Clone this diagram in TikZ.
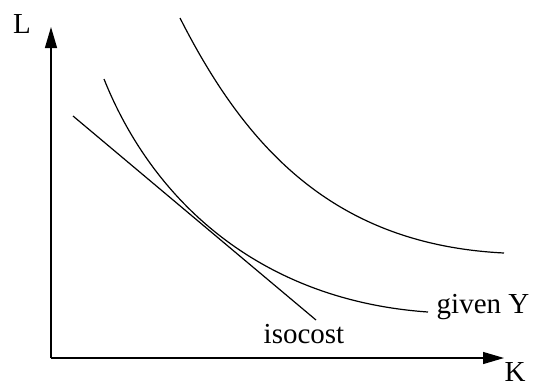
\documentclass[tikz,border=0pt]{standalone}
\usepackage{fontspec}
\setmainfont{Liberation Serif}
\usetikzlibrary{arrows.meta}

\begin{document}
\begin{tikzpicture}[x=1bp, y=-1bp,
    axis/.style={-{Triangle[length=21bp, width=12bp]}, line width=1.2bp},
    curve/.style={line width=1.2bp},
    lbl/.style={anchor=base, inner sep=0pt, font=\fontsize{29bp}{34bp}\selectfont}]
        \useasboundingbox (0,0) rectangle (535,388);

        \coordinate (o)    at (51,358);
        \coordinate (ltop) at (51,27);
        \coordinate (kend) at (504,358);
        \coordinate (q1s)  at (104,79);
        \coordinate (q1e)  at (428,312);
        \coordinate (q2s)  at (180,18);
        \coordinate (q2e)  at (504,253);
        \coordinate (cs)   at (73,116);
        \coordinate (ce)   at (316,320);

        \node[lbl] (l)     at (22,33)   {L};
        \node[lbl] (k)     at (515,381) {K};
        \node[lbl] (iso)   at (304,343) {isocost};
        \node[lbl] (given) at (483,313) {given Y};

        % axes
        \draw[axis] (o) -- (ltop);
        \draw[axis] (o) -- (kend);

        % isoquants and isocost
        \draw[curve] (q1s) .. controls (154,204) and (263,300.5) .. (q1e);
        \draw[curve] (q2s) .. controls (246,148) and (334,244.5) .. (q2e);
        \draw[curve] (cs) -- (ce);

\end{tikzpicture}
\end{document}
